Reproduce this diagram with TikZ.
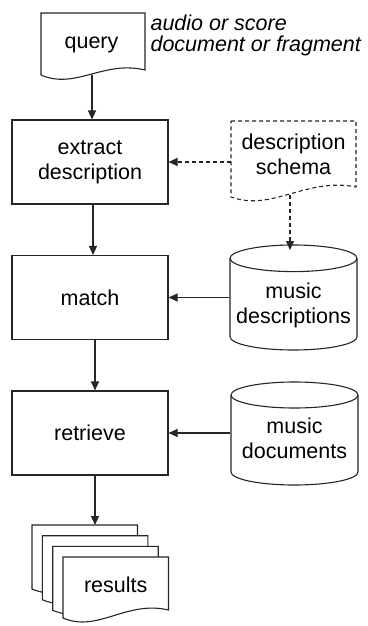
\documentclass[tikz,border=0pt]{standalone}
\usepackage{fontspec}
\setmainfont{Liberation Sans}
\usetikzlibrary{arrows.meta}
\newcommand\docshape[6][]{%
  \draw[fill=white,#1] (#2,#3) -- (#4,#3) -- (#4,#6) .. controls ({#2+0.6*(#4-#2)},{#6-10}) and ({#2+0.33*(#4-#2)},{#5+15}) .. (#2,#5) -- cycle;}
\newcommand\cylshape[6]{%
  \draw[fill=white] (#1,{#3+#6}) -- (#1,{#4-#6}) arc[start angle=180,end angle=360,x radius=#5pt,y radius=#6pt] -- (#2,{#3+#6});
  \draw ({(#1+#2)/2},{#3+#6}) ellipse[x radius=#5pt,y radius=#6pt];}
\begin{document}
\begin{tikzpicture}[x=1pt,y=-1pt,line width=1.1pt,draw=black!85,
  txt/.style={font=\fontsize{21.5}{25}\selectfont,align=center,inner sep=0pt,text=black},
  procbox/.style={txt,draw,minimum width=156,minimum height=84},
  holder/.style={draw=none,inner sep=0pt,rectangle},
  arr/.style={-{Triangle[length=9pt,width=8pt]}},
  dsh/.style={dash pattern=on 4pt off 3pt}]
\useasboundingbox (0,0) rectangle (367,626);

% query document
\docshape{41}{13}{145}{75}{70}
\node[txt] (query) at (91.5,44.7) {query};
\coordinate (qbot) at (92,74.5);
\node[txt,font=\fontsize{21.5}{21}\selectfont\itshape,align=left,anchor=north west] (note) at (150,14.3) {audio or score\\document or fragment};

% process boxes
\node[procbox] (extract) at (90,162) {extract\\description};
\node[procbox] (match) at (90,297.5) {match};
\node[procbox] (retrieve) at (90,433) {retrieve};

% description schema (dashed document)
\docshape[dsh]{231}{121}{356}{197}{187}
\node[txt] (schema) at (293.5,154) {description\\schema};
\coordinate (sleft) at (231,162);
\coordinate (sbot) at (290,195);

% cylinders
\cylshape{230}{357}{245}{350}{63.5}{13.3}
\node[holder,minimum width=127,minimum height=105] (mdesc) at (293.5,297.5) {};
\node[txt] (mdesctext) at (293.5,305) {music\\descriptions};
\coordinate (mdtop) at (290,250);

\cylshape{231}{358}{382}{485}{63.5}{13}
\node[holder,minimum width=127,minimum height=103] (mdoc) at (294.5,433) {};
\node[txt] (mdoctext) at (294.5,438) {music\\documents};

% results (multiple documents)
\docshape{32}{525}{137.5}{589}{580}
\docshape{42.3}{535.7}{147.8}{599.7}{590.7}
\docshape{52.7}{546.3}{158.2}{610.3}{601.3}
\docshape{63}{557}{168.5}{618}{610}
\node[txt] (res) at (115.7,585) {results};
\coordinate (restop) at (95,525);

% connectors
\draw[arr] (qbot) -- (qbot |- extract.north);
\draw[arr] ([xshift=3pt]extract.south) -- ([xshift=3pt]match.north);
\draw[arr] ([xshift=5pt]match.south) -- ([xshift=5pt]retrieve.north);
\draw[arr] ([xshift=5pt]retrieve.south) -- (restop);
\draw[arr,dsh] (sleft) -- (extract.east);
\draw[arr,dsh] (sbot) -- (mdtop);
\draw[arr] (mdesc.west) -- (match.east);
\draw[arr] (mdoc.west) -- (retrieve.east);
\end{tikzpicture}
\end{document}
